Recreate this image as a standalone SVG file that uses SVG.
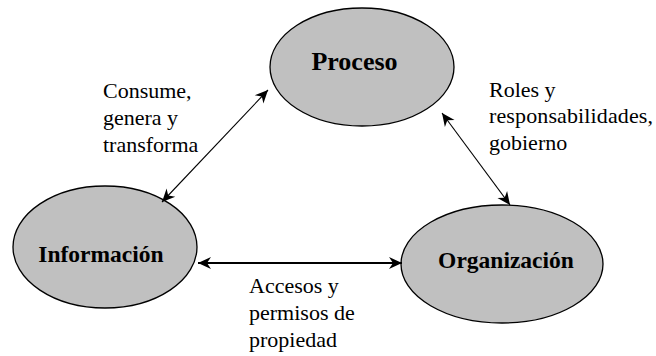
<svg xmlns="http://www.w3.org/2000/svg" width="656" height="356" viewBox="0 0 656 356">
<style>
.node ellipse{fill:#c0c0c0;stroke:#000;stroke-width:1.3}
.node text{font-family:"Liberation Serif","Times New Roman",serif;font-weight:bold;font-size:23.5px;text-anchor:middle;fill:#000}
.lbl{font-family:"Liberation Serif","Times New Roman",serif;font-size:22px;fill:#000}
.conn line{stroke:#000;stroke-width:1.1;fill:none}
</style>
<defs>
<marker id="ah" viewBox="-14 -7 16 14" refX="0" refY="0" markerWidth="16" markerHeight="14" markerUnits="userSpaceOnUse" orient="auto-start-reverse">
<path d="M0,0 L-13,-6 L-9,0 L-13,6 Z" fill="#000"/>
</marker>
</defs>
<rect width="656" height="356" fill="#fff"/>
<g id="proceso" class="node">
<ellipse cx="362" cy="67" rx="92" ry="59"/>
<text x="354.5" y="70" style="font-size:26px">Proceso</text>
</g>
<g id="informacion" class="node">
<ellipse cx="105" cy="247" rx="92" ry="61"/>
<text x="101" y="262">Información</text>
</g>
<g id="organizacion" class="node">
<ellipse cx="502" cy="264" rx="101" ry="59"/>
<text x="506" y="268">Organización</text>
</g>
<g id="connectors" class="conn">
<line x1="162" y1="202" x2="268" y2="90" marker-start="url(#ah)" marker-end="url(#ah)"/>
<line x1="442" y1="113" x2="510" y2="205" marker-start="url(#ah)" marker-end="url(#ah)"/>
<line x1="198" y1="263" x2="402" y2="263" style="stroke-width:2" marker-start="url(#ah)" marker-end="url(#ah)"/>
</g>
<g id="labels">
<text class="lbl" x="103" y="98">Consume,</text>
<text class="lbl" x="103" y="125">genera y</text>
<text class="lbl" x="103" y="152">transforma</text>
<text class="lbl" x="489" y="97">Roles y</text>
<text class="lbl" x="489" y="123" textLength="164">responsabilidades,</text>
<text class="lbl" x="489" y="150">gobierno</text>
<text class="lbl" x="249" y="293">Accesos y</text>
<text class="lbl" x="249" y="320">permisos de</text>
<text class="lbl" x="249" y="347">propiedad</text>
</g>
</svg>
